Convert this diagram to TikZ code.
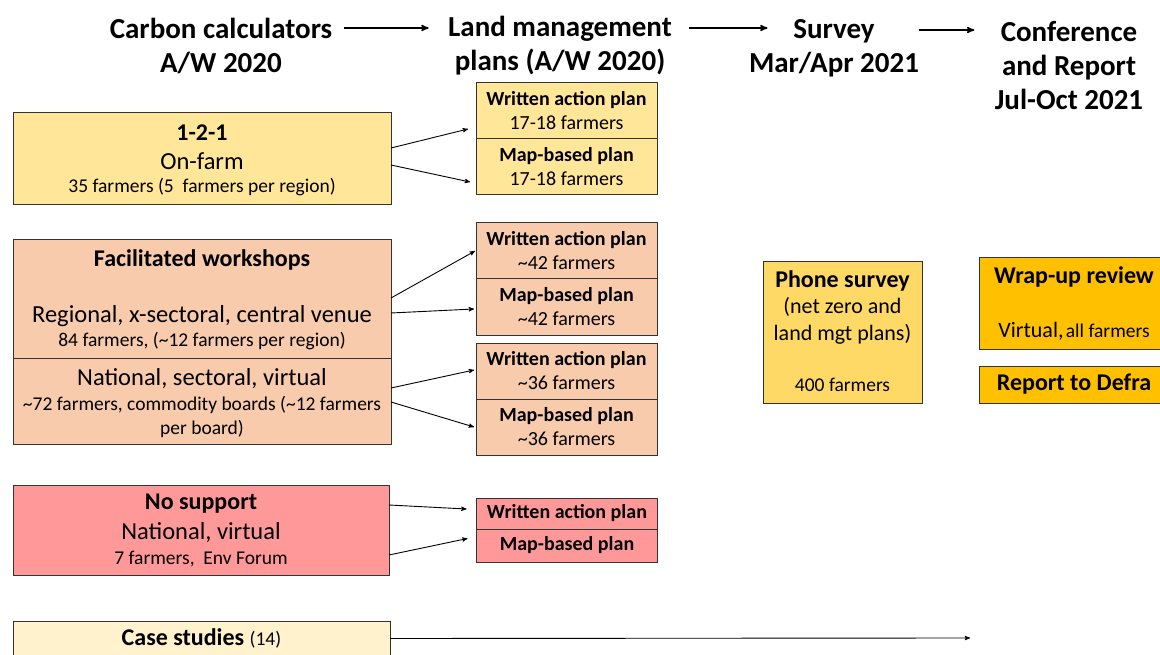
\documentclass[tikz,border=0pt]{standalone}
\usepackage{fontspec}
\setmainfont{Carlito}
\usepackage{tikz}
\usetikzlibrary{positioning, arrows}
\definecolor{oneyellow}{HTML}{FFE699}
\definecolor{facpeach}{HTML}{F8CBAD}
\definecolor{nored}{HTML}{FF9999}
\definecolor{casecream}{HTML}{FFF2CC}
\definecolor{phonegold}{HTML}{FFD966}
\definecolor{wraporange}{HTML}{FFC000}
\tikzset{
  >=stealth',
  hdr/.style={font=\fontsize{29}{34}\selectfont\bfseries, align=center},
  hdrarr/.style={->, line width=1.5pt},
  arr/.style={->, line width=0.9pt},
  box/.style={draw=black!80, line width=1pt, outer sep=0pt, inner sep=0pt},
  plan/.style={box, minimum width=181, minimum height=56, align=center,
    font=\fontsize{20}{24}\selectfont},
  flat/.style={box, minimum width=181, minimum height=33,
    font=\fontsize{20}{22}\selectfont\bfseries},
  big/.style={font=\fontsize{24.5}{28}\selectfont},
  bold/.style={font=\fontsize{24}{28}\selectfont\bfseries},
  small/.style={font=\fontsize{19.5}{24}\selectfont, align=center},
}
\begin{document}
\begin{tikzpicture}[x=1pt, y=-1pt]
        \useasboundingbox (0,0) rectangle (1160,655);
        \clip (0,0) rectangle (1160,655);

        % stage headings
        \node[hdr] (hCarbon) at (221,46) {Carbon calculators\\A/W 2020};
        \node[hdr] (hLand) at (560,46) {Land management\\plans (A/W 2020)};
        \node[hdr] (hSurvey) at (834,48) {Survey\\Mar/Apr 2021};
        \node[hdr] (hConf) at (1069,66) {Conference\\and Report\\Jul-Oct 2021};

        % left boxes
        \node[box, fill=oneyellow, minimum width=378, minimum height=92] (oneone) at (202,159) {};
        \node[bold] (oneT) at (202,133) {1-2-1};
        \node[big] (oneS) at (202,161) {On-farm};
        \node[small] (oneN) at (202,187) {35 farmers (5\ \ farmers per region)};

        \node[box, fill=facpeach, minimum width=378, minimum height=118] (facA) at (202,299) {};
        \node[box, fill=facpeach, minimum width=378, minimum height=86] (facB) at (202,401) {};
        \node[bold] (facT) at (202,260) {Facilitated workshops};
        \node[big] (facS) at (202,316) {Regional, x-sectoral, central venue};
        \node[small] (facN) at (202,341) {84 farmers, (\textasciitilde 12 farmers per region)};
        \node[big] (natS) at (202,379) {National, sectoral, virtual};
        \node[small] (natN) at (202,417) {\textasciitilde 72 farmers, commodity boards (\textasciitilde 12 farmers\\per board)};

        \node[box, fill=nored, minimum width=376, minimum height=90] (nosup) at (201,530) {};
        \node[bold] (noT) at (201,504) {No support};
        \node[big] (noS) at (201,533) {National, virtual};
        \node[small] (noN) at (201,559) {7 farmers,\ \ Env Forum};

        \node[box, fill=casecream, minimum width=377, minimum height=52] (cases) at (201.5,647) {};
        \node[bold] (caseT) at (201.5,638) {Case studies {\fontsize{19.5}{22}\selectfont\mdseries(14)}};
        \coordinate (caseEnd) at (970,638);

        % plan boxes
        \node[plan, fill=oneyellow] (wapA) at (566.5,111) {\textbf{Written action plan}\\17-18 farmers};
        \node[plan, fill=oneyellow, below=0pt of wapA] (mbpA) {\textbf{Map-based plan}\\17-18 farmers};
        \node[plan, fill=facpeach] (wapB) at (566.5,251) {\textbf{Written action plan}\\\textasciitilde 42 farmers};
        \node[plan, fill=facpeach, below=0pt of wapB] (mbpB) {\textbf{Map-based plan}\\\textasciitilde 42 farmers};
        \node[plan, fill=facpeach] (wapC) at (566.5,371) {\textbf{Written action plan}\\\textasciitilde 36 farmers};
        \node[plan, fill=facpeach, below=0pt of wapC] (mbpC) {\textbf{Map-based plan}\\\textasciitilde 36 farmers};
        \node[flat, fill=nored, minimum height=31] (wapD) at (567,513.5) {Written action plan};
        \node[flat, fill=nored, below=0pt of wapD] (mbpD) {Map-based plan};

        % survey and conference
        \node[box, fill=phonegold, minimum width=159, minimum height=141] (phone) at (842.5,332.5) {};
        \node[bold] (phT) at (842.5,281) {Phone survey};
        \node[align=center, font=\fontsize{22}{26.5}\selectfont] (phS) at (842.5,321) {(net zero and\\land mgt plans)};
        \node[small] (phN) at (842.5,385) {400 farmers};

        \node[box, fill=wraporange, minimum width=190, minimum height=91] (wrap) at (1074,303.5) {};
        \node[bold] (wrT) at (1074,277) {Wrap-up review};
        \node (wrN) at (1074,331) {{\fontsize{22}{26}\selectfont Virtual,} {\fontsize{19.5}{26}\selectfont all farmers}};
        \node[box, fill=wraporange, minimum width=190, minimum height=37,
          font=\fontsize{24}{28}\selectfont\bfseries] (defra) at (1074,384.5) {Report to Defra};

        % connectors
        \draw[hdrarr] ([xshift=8pt, yshift=18pt]hCarbon.east) -- ([xshift=-16pt, yshift=18pt]hLand.west);
        \draw[hdrarr] ([xshift=14pt, yshift=18pt]hLand.east) -- ([xshift=22pt, yshift=20pt]hSurvey.west);
        \draw[hdrarr] ([xshift=-4pt, yshift=18pt]hSurvey.east) -- ([xshift=-17pt, yshift=36pt]hConf.west);
        \draw[arr] ([yshift=11pt]oneone.east) -- ([xshift=-8pt, yshift=-18pt]wapA.west);
        \draw[arr] ([yshift=-6pt]oneone.east) -- ([xshift=-6pt, yshift=-15pt]mbpA.west);
        \draw[arr] ([yshift=1pt]facA.east) -- ([xshift=-1pt]wapB.west);
        \draw[arr] ([yshift=-14pt]facA.east) -- ([xshift=-2pt, yshift=-2pt]mbpB.west);
        \draw[arr] ([yshift=13pt]facB.east) -- ([xshift=-2pt, yshift=1pt]wapC.west);
        \draw[arr] ([yshift=-1pt]facB.east) -- ([xshift=-2pt]mbpC.west);
        \draw[arr] ([yshift=25pt]nosup.east) -- ([xshift=-10pt, yshift=4.5pt]wapD.west);
        \draw[arr] ([yshift=-25pt]nosup.east) -- ([xshift=-9pt, yshift=7pt]mbpD.west);
        \draw[arr] ([yshift=8.5pt]cases.east) -- (caseEnd);

      \end{tikzpicture}
\end{document}
